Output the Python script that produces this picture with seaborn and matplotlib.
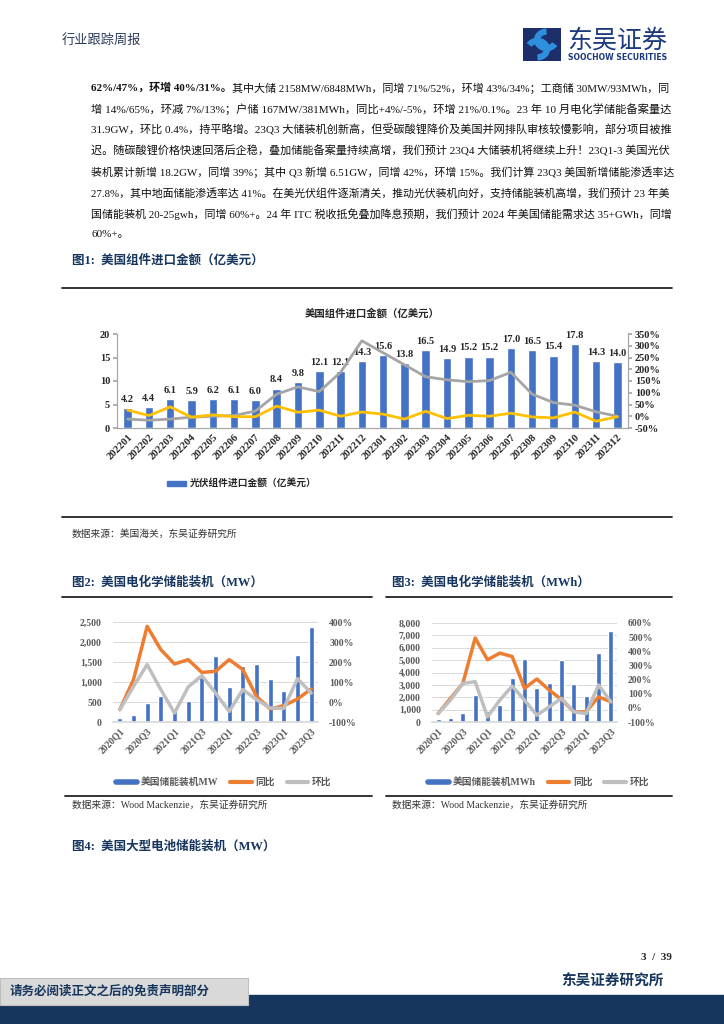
import numpy as np
import matplotlib
matplotlib.use('Agg')
import matplotlib.pyplot as plt
import seaborn as sns
from matplotlib.lines import Line2D
from matplotlib.patches import Rectangle, Patch, Arc
from matplotlib.ticker import FuncFormatter, MultipleLocator

# ---- data ----
months = ['202201', '202202', '202203', '202204', '202205', '202206', '202207', '202208',
          '202209', '202210', '202211', '202212', '202301', '202302', '202303', '202304',
          '202305', '202306', '202307', '202308', '202309', '202310', '202311', '202312']
import_amt = [4.2, 4.4, 6.1, 5.9, 6.2, 6.1, 6.0, 8.4, 9.8, 12.1, 12.1, 14.3,
              15.6, 13.8, 16.5, 14.9, 15.2, 15.2, 17.0, 16.5, 15.4, 17.8, 14.3, 14.0]
import_yoy = [-12, -17, -12, -4, 0, 3, 22, 94, 125, 105, 187, 321,
              270, 219, 168, 155, 147, 152, 187, 94, 58, 47, 19, 0]
import_mom = [26, 3, 40, -4, 6, -2, -2, 43, 17, 26, 0, 18,
              9, -12, 21, -10, 4, 0, 13, -3, -7, 18, -21, -2]

quarters = ['2020Q1', '2020Q2', '2020Q3', '2020Q4', '2021Q1', '2021Q2', '2021Q3', '2021Q4',
            '2022Q1', '2022Q2', '2022Q3', '2022Q4', '2023Q1', '2023Q2', '2023Q3']
mw = [100, 167, 475, 658, 283, 525, 1125, 1658, 875, 1392, 1458, 1075, 783, 1683, 2367]
mw_yoy = [-38, 112, 378, 262, 190, 212, 148, 153, 212, 162, 28, -35, -18, 15, 65]
mw_qoq = [-38, 78, 187, 62, -55, 75, 132, 45, -47, 62, 12, -30, -32, 117, 45]
mwh = [217, 298, 760, 2142, 868, 1356, 3553, 5098, 2766, 3119, 5017, 3064, 2115, 5614, 7322]
mwh_yoy = [-40, 67, 173, 494, 340, 387, 363, 138, 204, 126, 59, -28, -28, 78, 43]
mwh_qoq = [-40, 55, 173, 185, -64, 55, 154, 55, -52, 7, 67, -28, -40, 162, 43]

para = [
    "其中大储 2158MW/6848MWh，同增 71%/52%，环增 43%/34%；工商储 30MW/93MWh，同",
    "增 14%/65%，环减 7%/13%；户储 167MW/381MWh，同比+4%/-5%，环增 21%/0.1%。23 年 10 月电化学储能备案量达",
    "31.9GW，环比 0.4%，持平略增。23Q3 大储装机创新高，但受碳酸锂降价及美国并网排队审核较慢影响，部分项目被推",
    "迟。随碳酸锂价格快速回落后企稳，叠加储能备案量持续高增，我们预计 23Q4 大储装机将继续上升！23Q1-3 美国光伏",
    "装机累计新增 18.2GW，同增 39%；其中 Q3 新增 6.51GW，同增 42%，环增 15%。我们计算 23Q3 美国新增储能渗透率达",
    "27.8%，其中地面储能渗透率达 41%。在美光伏组件逐渐清关，推动光伏装机向好，支持储能装机高增，我们预计 23 年美",
    "国储能装机 20-25gwh，同增 60%+。24 年 ITC 税收抵免叠加降息预期，我们预计 2024 年美国储能需求达 35+GWh，同增",
    "60%+。",
]
para_bold = "62%/47%，环增 40%/31%。"

BLUE = '#4472C4'
ORANGE = '#ED7D31'
GRAY = '#A5A5A5'
LGRAY = '#BFBFBF'
YELLOW = '#FFC000'
NAVY = '#17365D'
TXT = '#595959'

W, H = 724, 1024
sns.set_theme(style='white')
plt.rcParams['font.family'] = ['Liberation Serif', 'Noto Sans CJK SC']
plt.rcParams['axes.unicode_minus'] = False

fig = plt.figure(figsize=(W / 100, H / 100), dpi=100)


def box(x0, y0, x1, y1):
    return [x0 / W, 1 - y1 / H, (x1 - x0) / W, (y1 - y0) / H]


def ftext(x, y, s, **kw):
    kw.setdefault('va', 'center')
    return fig.text(x / W, 1 - y / H, s, **kw)


def hline(x0, x1, y, lw=1.3, color='#222222'):
    fig.add_artist(Line2D([x0 / W, x1 / W], [1 - y / H] * 2, lw=lw, color=color))


# ---- header ----
ftext(62, 40, '行业跟踪周报', fontsize=9.5, color='#2b3b5c', family=['Noto Sans CJK SC'])
lg = fig.add_axes(box(523, 28, 561, 61))
lg.set_xlim(0, 1)
lg.set_ylim(0, 1)
lg.axis('off')
lg.add_patch(Rectangle((0, 0), 1, 1, color='#1c2f6b'))
lg.add_patch(Arc((0.62, 0.64), 0.5, 0.5, theta1=90, theta2=330, lw=4.5, color='#2e8fdc'))
lg.add_patch(Arc((0.38, 0.36), 0.5, 0.5, theta1=270, theta2=150, lw=4.5, color='#2e8fdc'))
ftext(567, 41, '东吴证券', fontsize=18, color='#1c3a7c', family=['Noto Sans CJK SC'])
ftext(568, 58, 'SOOCHOW SECURITIES', fontsize=5.6, color='#1c3a7c', weight='bold',
      family=['DejaVu Sans'])

# ---- paragraph (justified by sizing each line) ----
renderer = fig.canvas.get_renderer()
x_left, x_right = 91, 672
target = (x_right - x_left)
for i, line in enumerate(para):
    y = 88 + 21 * i
    parts = []
    if i == 0:
        parts.append(ftext(x_left, y, para_bold, fontsize=8, weight='bold', color='#111111'))
    parts.append(ftext(x_left, y, line, fontsize=8, color='#111111'))
    if i < len(para) - 1:
        wtot = sum(p.get_window_extent(renderer).width for p in parts)
        for p in parts:
            p.set_fontsize(8 * target / wtot)
    if len(parts) == 2:
        w1 = parts[0].get_window_extent(renderer).width
        parts[1].set_x((x_left + w1) / W)

# ---- figure 1 ----
ftext(72, 261, '图1:  美国组件进口金额（亿美元）', fontsize=9, weight='bold', color=NAVY)
hline(62, 672, 288)
hline(62, 672, 517)
ftext(372, 313, '美国组件进口金额（亿美元）', fontsize=7.5, weight='bold', ha='center')

ax = fig.add_axes(box(117, 334, 628, 428))
sns.barplot(x=months, y=import_amt, color=BLUE, saturation=1, width=0.4,
            errorbar=None, ax=ax)
ax.bar_label(ax.containers[0], fmt='%.1f', padding=3, fontsize=7.5, weight='bold')
ax2 = ax.twinx()
sns.lineplot(x=np.arange(len(months)), y=import_yoy, color=GRAY, lw=2, ax=ax2)
sns.lineplot(x=np.arange(len(months)), y=import_mom, color=YELLOW, lw=2, ax=ax2)
ax.set_ylim(0, 20)
ax.yaxis.set_major_locator(MultipleLocator(5))
ax2.set_ylim(-50, 350)
ax2.yaxis.set_major_locator(MultipleLocator(50))
ax2.yaxis.set_major_formatter(FuncFormatter(lambda v, p: f'{v:.0f}%'))
ax.set_xlim(-0.5, len(months) - 0.5)
ax.set_xticks(range(len(months)))
ax.set_xticklabels(months, rotation=45, ha='right', rotation_mode='anchor',
                   fontsize=7.6, weight='bold')
for a in (ax, ax2):
    a.set_xlabel('')
    a.set_ylabel('')
    for s in a.spines.values():
        s.set_color('#a6a6a6')
        s.set_linewidth(0.8)
    a.spines['top'].set_visible(False)
ax.tick_params(axis='y', left=True, length=3, labelsize=7.5, pad=2, color='#a6a6a6')
ax2.tick_params(axis='y', right=True, length=3, labelsize=7.5, pad=2, color='#a6a6a6')
ax.tick_params(axis='x', length=0, pad=3)
for t in ax.get_yticklabels() + ax2.get_yticklabels():
    t.set_fontweight('bold')
fig.legend(handles=[Patch(color=BLUE)], labels=['光伏组件进口金额（亿美元）'],
           loc='center left', bbox_to_anchor=(158 / W, 1 - 484 / H), frameon=False,
           handlelength=2.0, handleheight=0.55, handletextpad=0.4,
           prop={'size': 7, 'weight': 'bold'})
ftext(72, 534, '数据来源：美国海关，东吴证券研究所', fontsize=7, color='#333333')


# ---- figures 2 and 3 ----
def storage_chart(rect, vals, yoy, qoq, ymax, ystep, pmin, pmax, label, leg_x):
    axl = fig.add_axes(rect)
    sns.barplot(x=quarters, y=vals, color=BLUE, saturation=1, width=0.38,
                errorbar=None, ax=axl)
    axr = axl.twinx()
    sns.lineplot(x=np.arange(len(quarters)), y=yoy, color=ORANGE, lw=2.5, ax=axr)
    sns.lineplot(x=np.arange(len(quarters)), y=qoq, color=LGRAY, lw=2.5, ax=axr)
    axl.set_ylim(0, ymax)
    axl.yaxis.set_major_locator(MultipleLocator(ystep))
    axl.yaxis.set_major_formatter(FuncFormatter(lambda v, p: f'{v:,.0f}'))
    axr.set_ylim(pmin, pmax)
    axr.yaxis.set_major_locator(MultipleLocator(100))
    axr.yaxis.set_major_formatter(FuncFormatter(lambda v, p: f'{v:.0f}%'))
    axl.set_xlim(-0.5, len(quarters) - 0.5)
    axl.set_xticks(range(0, len(quarters), 2))
    axl.set_xticklabels(quarters[::2], rotation=45, ha='right', rotation_mode='anchor',
                        fontsize=7, weight='bold', color=TXT)
    axl.set_axisbelow(True)
    axl.grid(axis='y', color='#d9d9d9', lw=0.7)
    for a in (axl, axr):
        a.set_xlabel('')
        a.set_ylabel('')
        for s in a.spines.values():
            s.set_visible(False)
        a.tick_params(length=0)
    axl.spines['bottom'].set_visible(True)
    axl.spines['bottom'].set_color('#d9d9d9')
    axl.tick_params(axis='y', labelsize=7, pad=8, labelcolor=TXT)
    axr.tick_params(axis='y', labelsize=7, pad=8, labelcolor=TXT)
    axl.tick_params(axis='x', pad=3)
    for t in axl.get_yticklabels() + axr.get_yticklabels():
        t.set_fontweight('bold')
    handles = [Line2D([], [], color=BLUE, lw=4), Line2D([], [], color=ORANGE, lw=3),
               Line2D([], [], color=LGRAY, lw=3)]
    fig.legend(handles=handles, labels=[label, '同比', '环比'], ncol=3,
               loc='center left', bbox_to_anchor=(leg_x / W, 1 - 782 / H), frameon=False,
               handlelength=2.2, handletextpad=0.4, columnspacing=1.2,
               prop={'size': 7, 'weight': 'bold'}, labelcolor=TXT)


ftext(72, 583, '图2:  美国电化学储能装机（MW）', fontsize=9, weight='bold', color=NAVY)
ftext(392, 583, '图3:  美国电化学储能装机（MWh）', fontsize=9, weight='bold', color=NAVY)
hline(62, 372, 597)
hline(386, 672, 597)
storage_chart(box(113, 622, 318, 722), mw, mw_yoy, mw_qoq, 2500, 500, -100, 400,
              '美国储能装机MW', 107)
storage_chart(box(432, 623, 617, 722), mwh, mwh_yoy, mwh_qoq, 8000, 1000, -100, 600,
              '美国储能装机MWh', 419)
hline(65, 372, 796)
hline(386, 672, 796)
ftext(72, 805, '数据来源：Wood Mackenzie，东吴证券研究所', fontsize=7, color='#333333')
ftext(392, 805, '数据来源：Wood Mackenzie，东吴证券研究所', fontsize=7, color='#333333')

ftext(72, 846, '图4:  美国大型电池储能装机（MW）', fontsize=9, weight='bold', color=NAVY)

# ---- footer ----
ftext(672, 958, '3  /  39', fontsize=8, weight='bold', ha='right')
ftext(663, 982, '东吴证券研究所', fontsize=10.5, weight='bold', ha='right', color=NAVY)
fig.add_artist(Rectangle((0, 0), 1, 29 / H, transform=fig.transFigure, color=NAVY, zorder=1))
fig.add_artist(Rectangle((0, 1 - 1005 / H), 248 / W, 27 / H, transform=fig.transFigure,
                         facecolor='#d9d9d9', edgecolor='#bfbfbf', lw=0.8, zorder=2))
ftext(10, 992, '请务必阅读正文之后的免责声明部分', fontsize=9, weight='bold', color=NAVY,
      zorder=3)

fig.savefig('out.png', dpi=100)
